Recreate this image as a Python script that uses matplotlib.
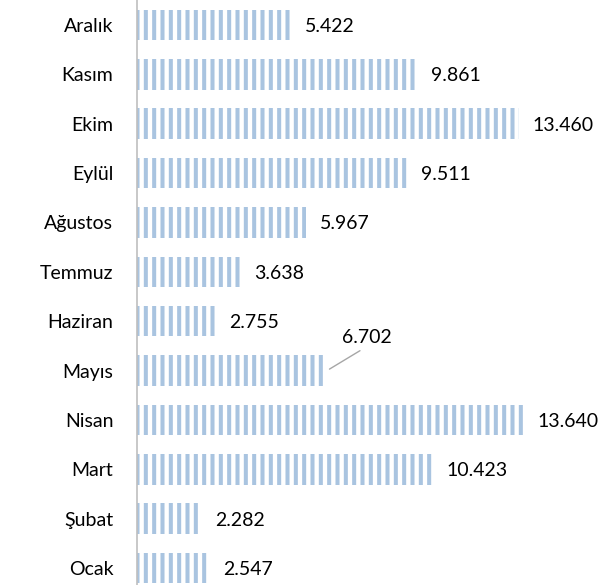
import matplotlib.pyplot as plt
from matplotlib.transforms import offset_copy

# aylar (alttan üste)
aylar = ["Ocak", "Şubat", "Mart", "Nisan", "Mayıs", "Haziran",
         "Temmuz", "Ağustos", "Eylül", "Ekim", "Kasım", "Aralık"]
degerler = [2547, 2282, 10423, 13640, 6702, 2755,
            3638, 5967, 9511, 13460, 9861, 5422]

plt.rcParams['font.family'] = ['Lato', 'DejaVu Sans']
plt.rcParams['hatch.linewidth'] = 2.9

fig = plt.figure(figsize=(6.07, 5.85), dpi=100)
ax = fig.add_axes([137 / 607, 0, 470 / 607, 1])

y = list(range(len(aylar)))
ax.barh(y, degerler, height=0.62, color='none', edgecolor='#A9C4E0',
        linewidth=0, hatch='||', zorder=1)

ax.set_xlim(0, 16570)
ax.set_ylim(-0.344, 11.506)
ax.set_yticks(y)
ax.set_yticklabels(aylar, fontsize=14)
ax.tick_params(axis='y', length=0, pad=17)
ax.set_xticks([])
for s in ['top', 'right', 'bottom']:
    ax.spines[s].set_visible(False)
ax.spines['left'].set_color('#BFBFBF')
ax.spines['left'].set_linewidth(1.2)
ax.spines['left'].set_zorder(3)

for yi, v in zip(y, degerler):
    etiket = f"{v:,}".replace(",", ".")
    if aylar[yi] == "Mayıs":
        ax.annotate(etiket, xy=(v, yi), xytext=(8107, yi + 0.66),
                    fontsize=14, ha='center', va='center',
                    arrowprops=dict(arrowstyle='-', color='#A6A6A6', lw=1,
                                    relpos=(0.5, 0), shrinkA=2, shrinkB=2))
    else:
        tr = offset_copy(ax.transData, fig=fig, x=10, y=-1, units='points')
        ax.text(v, yi, etiket, transform=tr, fontsize=14,
                ha='left', va='center')

fig.savefig("out.png", dpi=100)
